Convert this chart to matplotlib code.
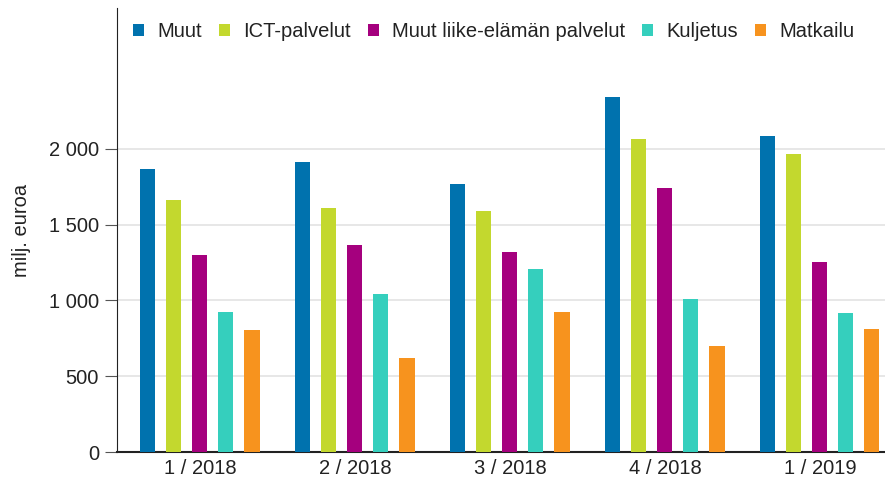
import numpy as np
import matplotlib
matplotlib.use("Agg")
import matplotlib.pyplot as plt
from matplotlib.ticker import FuncFormatter

plt.rcParams["font.family"] = ["Liberation Sans", "DejaVu Sans"]

# Quarters and series (milj. euroa)
quarters = ["1 / 2018", "2 / 2018", "3 / 2018", "4 / 2018", "1 / 2019"]
series_names = ["Muut", "ICT-palvelut", "Muut liike-elämän palvelut", "Kuljetus", "Matkailu"]
muut = [1868, 1914, 1770, 2343, 2086]
ict = [1663, 1610, 1591, 2066, 1967]
muut_liike = [1300, 1366, 1320, 1743, 1254]
kuljetus = [924, 1043, 1208, 1010, 917]
matkailu = [805, 620, 924, 700, 812]
series_values = [muut, ict, muut_liike, kuljetus, matkailu]
colors = ["#0072AE", "#C3D82E", "#A5007E", "#35CFBD", "#F7931E"]

fig = plt.figure(figsize=(8.85, 4.83), dpi=100)
ax = fig.add_axes([117 / 885, 31 / 483, 768 / 885, 444 / 483])

x = np.arange(len(quarters))
step = 0.168
width = 0.097
for i, (name, vals, col) in enumerate(zip(series_names, series_values, colors)):
    ax.bar(x + (i - 2) * step, vals, width, color=col, label=name, zorder=3)

ax.set_xlim(-0.535, 4.42)
ax.set_ylim(0, 2930)
ax.set_yticks([0, 500, 1000, 1500, 2000])
ax.yaxis.set_major_formatter(FuncFormatter(lambda v, p: f"{int(v):,}".replace(",", " ")))
ax.set_xticks(x)
ax.set_xticklabels(quarters)
ax.grid(axis="y", color="#e3e3e3", linewidth=1.2, zorder=0)

for s in ["top", "right"]:
    ax.spines[s].set_visible(False)
ax.spines["left"].set_color("#222222")
ax.spines["bottom"].set_color("#222222")
ax.spines["bottom"].set_linewidth(1.5)

ax.tick_params(axis="y", length=9, color="#555555", labelsize=14.5, pad=4, labelcolor="#222222")
ax.tick_params(axis="x", length=0, labelsize=14.5, pad=5, labelcolor="#222222")
ax.set_ylabel("milj. euroa", fontsize=14.5, color="#222222")
ax.yaxis.set_label_coords(-0.112, 0.5)

ax.legend(loc="upper left", bbox_to_anchor=(0.005, 0.995), ncol=5, frameon=False,
          fontsize=14.5, handlelength=0.55, handleheight=0.55, handletextpad=0.65,
          columnspacing=0.85, borderaxespad=0.2, labelcolor="#222222")

fig.savefig("out.png", dpi=100, facecolor="white")
